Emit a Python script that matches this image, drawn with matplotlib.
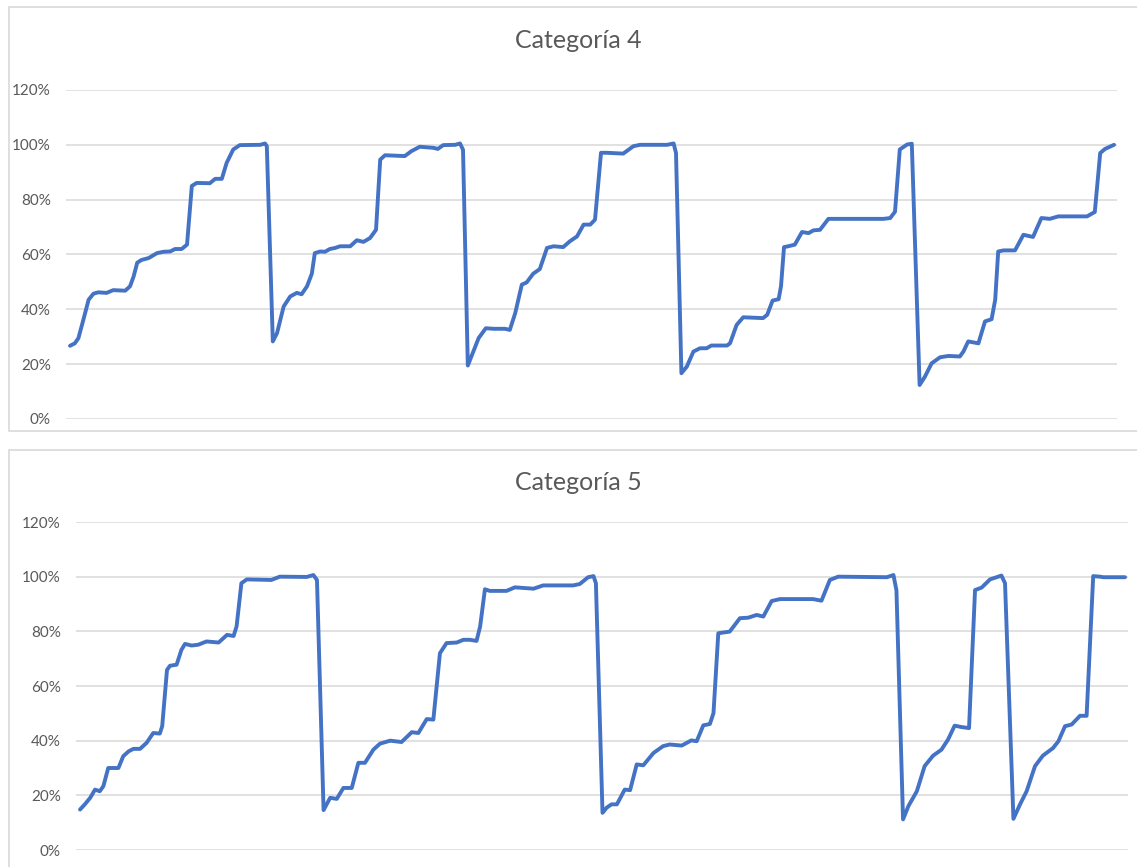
import matplotlib
matplotlib.use("Agg")
import matplotlib.pyplot as plt
from matplotlib.patches import Rectangle

# Categoría 4: punto de muestreo y porcentaje acumulado
cat4_x = [0.0, 0.8, 1.4, 2.2, 3.1, 3.9, 4.7, 6.1, 7.2, 9.2, 10.0, 10.6, 11.2, 11.9, 13.1,
          14.5, 15.6, 16.7, 17.5, 18.6, 19.5, 20.3, 21.1, 23.3, 24.2, 25.3, 26.1, 27.2,
          28.3, 31.7, 32.5, 32.8, 33.8, 34.5, 35.6, 36.7, 37.8, 38.6, 39.5, 40.3, 40.8,
          41.7, 42.5, 43.3, 44.2, 45.0, 46.7, 47.8, 48.9, 50.0, 51.0, 51.7, 52.5, 55.8,
          56.9, 58.3, 60.6, 61.3, 62.2, 64.2, 65.0, 65.5, 66.3, 66.9, 68.1, 69.3, 70.6,
          72.5, 73.3, 74.2, 75.3, 76.1, 77.2, 78.3, 79.5, 80.6, 82.2, 83.3, 84.5, 85.6,
          86.7, 87.5, 88.5, 89.5, 92.2, 93.9, 95.0, 99.5, 100.6, 101.0, 101.9, 102.8,
          103.9, 105.0, 106.1, 106.9, 109.5, 110.0, 111.1, 112.2, 115.5, 116.2, 117.1,
          118.1, 118.5, 119.0, 119.7, 120.8, 122.0, 123.1, 123.9, 125.0, 126.4, 127.8,
          135.6, 136.7, 137.5, 138.3, 139.5, 140.3, 141.6, 142.5, 143.6, 145.0, 146.4,
          148.3, 148.9, 149.7, 151.4, 152.5, 153.6, 154.2, 154.7, 155.6, 157.5, 158.9,
          160.5, 161.9, 163.3, 164.7, 169.5, 170.8, 171.7, 172.5, 174.0]
cat4_y = [26.7, 27.6, 29.5, 36, 43.5, 45.7, 46.2, 46, 47, 46.8, 48.4, 52, 57, 58, 58.7,
          60.5, 61, 61.1, 62, 62, 63.6, 85, 86.1, 86, 87.6, 87.6, 93.4, 98.3,
          99.9, 100, 100.5, 99.5, 28.3, 31.3, 41, 44.7, 46, 45.5, 48.4, 53, 60.5,
          61.1, 61, 62, 62.4, 63, 63, 65.2, 64.6, 66, 69, 94.6, 96.2, 95.9,
          97.7, 99.3, 98.9, 98.5, 99.9, 100, 100.5, 98.2, 19.5, 22.8, 29.5, 33.1, 32.9,
          32.9, 32.5, 38.6, 49, 49.8, 53, 54.7, 62.4, 63, 62.7, 64.8, 66.6, 70.9,
          70.9, 72.7, 97.1, 97.1, 96.8, 99.5, 100, 100, 100.5, 97, 16.7, 19.1,
          24.6, 25.8, 25.8, 26.8, 26.8, 27.6, 34.3, 37.1, 36.8, 38, 43.2,
          43.7, 48.4, 62.7, 63, 63.6, 68.2, 67.8, 68.8, 69, 73, 73,
          73, 73.3, 75.6, 98.3, 100.1, 100.4, 12.4, 15.5, 20.3, 22.5, 23,
          22.8, 24.6, 28.3, 27.6, 35.6, 36.4, 43.5, 61.1, 61.5, 61.5, 67.2,
          66.4, 73.3, 73, 73.9, 73.9, 75.5, 97, 98.5, 100]

# Categoría 5
cat5_x = [0.0, 0.8, 1.7, 2.5, 3.3, 3.9, 4.7, 6.4, 7.2, 8.1, 8.9, 10.0, 11.1, 12.2, 13.3,
          13.7, 14.5, 15.0, 16.1, 16.9, 17.5, 18.6, 19.7, 21.1, 23.1, 24.5, 25.6, 26.1,
          26.9, 27.8, 31.9, 33.3, 37.8, 38.9, 39.5, 40.6, 41.7, 42.8, 43.9, 45.3, 46.4,
          47.5, 48.9, 50.0, 51.7, 53.6, 55.3, 56.4, 57.8, 58.9, 60.0, 61.1, 62.8, 63.9,
          65.0, 66.1, 66.7, 67.5, 68.3, 71.1, 72.5, 75.6, 77.2, 82.2, 83.3, 84.7, 85.6,
          86.0, 87.1, 87.8, 88.6, 89.5, 90.8, 91.7, 92.8, 93.9, 95.6, 97.2, 98.3, 100.3,
          101.9, 102.8, 103.9, 105.0, 105.6, 106.4, 108.3, 110.0, 111.4, 112.8, 113.9,
          115.3, 116.7, 122.2, 123.6, 125.0, 126.4, 134.5, 135.6, 136.1, 137.2, 138.1,
          139.5, 140.8, 142.2, 143.6, 144.7, 145.8, 146.9, 148.2, 149.2, 150.3, 151.7,
          153.6, 154.2, 155.6, 156.7, 157.8, 159.2, 160.5, 162.2, 163.1, 164.2, 165.3,
          166.7, 167.8, 168.9, 170.0, 170.6, 174.2]
cat5_y = [14.8, 16.7, 19.1, 22.1, 21.5, 23.4, 30, 30, 34.3, 36.1, 37, 37, 39.2, 42.8, 42.6,
          45.3, 65.9, 67.4, 67.8, 73.2, 75.4, 74.8, 75.1, 76.3, 75.9, 78.7, 78.3, 81.8,
          97.6, 99, 98.8, 100, 99.9, 100.6, 98.8, 14.6, 19.1, 18.7, 22.7, 22.7, 31.9,
          31.9, 36.7, 38.9, 40, 39.5, 43.1, 42.8, 47.9, 47.7, 72, 75.7, 75.9, 76.9,
          76.9, 76.5, 81.8, 95.4, 94.8, 94.8, 96.1, 95.6, 96.8, 96.8, 97.3, 99.8, 100.2,
          97.6, 13.6, 15.5, 16.7, 16.7, 22.1, 21.9, 31.3, 31, 35.5, 38, 38.6, 38.2,
          40.1, 39.8, 45.6, 46.1, 50.1, 79.3, 79.9, 84.8, 85, 86, 85.4,
          91.1, 91.8, 91.8, 91.2, 98.8, 100, 99.8, 100.6, 95, 11.2, 16.1,
          21.5, 30.7, 34.5, 36.7, 40.4, 45.5, 45, 44.6, 95.1, 96, 99,
          100.4, 97.6, 11.4, 16.7, 21.5, 30.7, 34.5, 37.3, 39.8, 45.3, 45.9,
          49.1, 49.1, 100.2, 100, 99.8, 99.8]

y_ticks = [0, 20, 40, 60, 80, 100, 120]
titles = ["Categoría 4", "Categoría 5"]

LINE = "#4472C4"
GRID = "#D9D9D9"
TEXT = "#595959"
W, H = 1137, 867

fig = plt.figure(figsize=(W / 100, H / 100), dpi=100)
fig.patch.set_facecolor("white")


def frac(x0, y0, x1, y1):
    # caja en pixeles (origen arriba a la izquierda) -> fraccion de figura
    return [x0 / W, 1 - y1 / H, (x1 - x0) / W, (y1 - y0) / H]


def panel(box, frame, title_y, xs, ys, xlim, title):
    fx = frac(*frame)
    fig.add_artist(Rectangle((fx[0], fx[1]), fx[2], fx[3], transform=fig.transFigure,
                             facecolor="white", edgecolor=GRID, linewidth=1.2, zorder=0))
    ax = fig.add_axes(frac(*box))
    ax.set_facecolor("none")
    ax.plot(xs, ys, color=LINE, linewidth=2.8, solid_joinstyle="round",
            solid_capstyle="round", zorder=3)
    ax.set_xlim(*xlim)
    ax.set_ylim(0, 120)
    ax.set_yticks(y_ticks)
    ax.set_yticklabels([f"{t}%" for t in y_ticks], fontsize=11, color=TEXT,
                       family="Lato")
    ax.set_xticks([])
    ax.tick_params(axis="y", length=0, pad=11)
    ax.grid(axis="y", color=GRID, linewidth=1.1)
    ax.set_axisbelow(True)
    for s in ax.spines.values():
        s.set_visible(False)
    fig.text(578 / W, 1 - title_y / H, title, ha="center", va="center",
             fontsize=18, color=TEXT, family="Lato")
    return ax


panel((66, 90, 1117, 419), (9, 7, 1145, 431), 40, cat4_x, cat4_y, (-0.67, 174.5), titles[0])
panel((76, 522, 1128, 850), (9, 450, 1145, 880), 482, cat5_x, cat5_y, (-0.67, 174.7), titles[1])

fig.savefig("out.png", dpi=100, facecolor="white")
